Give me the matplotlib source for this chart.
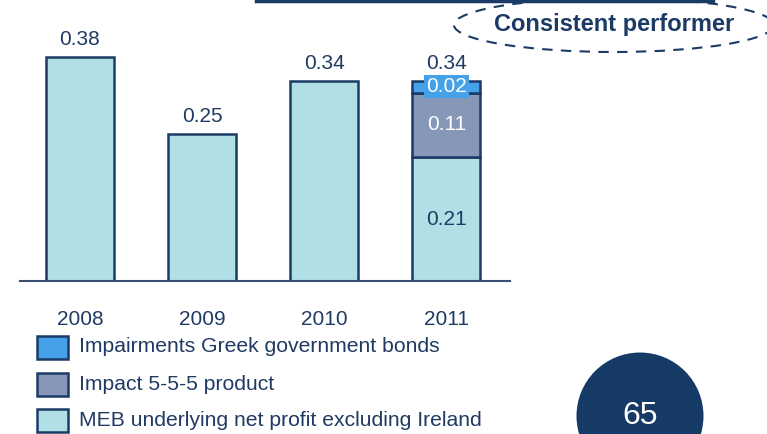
import numpy as np
import matplotlib.pyplot as plt
from matplotlib.patches import Ellipse, Circle
from matplotlib.lines import Line2D

plt.rcParams['font.family'] = ['Liberation Sans', 'DejaVu Sans']

years = ['2008', '2009', '2010', '2011']
underlying = [0.38, 0.25, 0.34, 0.21]   # MEB underlying net profit excl. Ireland
impact_555 = [0, 0, 0, 0.11]
greek_bonds = [0, 0, 0, 0.02]
totals = [0.38, 0.25, 0.34, 0.34]
legend_labels = ['Impairments Greek government bonds',
                 'Impact 5-5-5 product',
                 'MEB underlying net profit excluding Ireland']
page_no = '65'

navy = '#1b3a66'
text_c = '#1f3a63'
c_light = '#b0dfe5'
c_mid = '#8797b8'
c_blue = '#45a2e8'

W, H = 767, 434
fig = plt.figure(figsize=(W / 100, H / 100), dpi=100)

# axes placed in pixel terms: baseline at y=281, x from 20 to 510
ax = fig.add_axes([20 / W, (H - 281) / H, 490 / W, 265 / H])
ax.set_xlim(-0.49, 3.52)
ax.set_ylim(0, 0.45)
for s in ['top', 'right', 'left']:
    ax.spines[s].set_visible(False)
ax.spines['bottom'].set_color('#3b4f73')
ax.spines['bottom'].set_linewidth(1.5)
ax.set_yticks([])

x = np.arange(len(years))
w = 0.556
ax.bar(x, underlying, w, color=c_light, edgecolor=navy, linewidth=1.8, zorder=2)
b2 = np.array(underlying)
ax.bar(x[3], impact_555[3], w, bottom=b2[3], color=c_mid, edgecolor=navy,
       linewidth=1.8, zorder=2)
b3 = b2[3] + impact_555[3]
ax.bar(x[3], greek_bonds[3], w, bottom=b3, color=c_blue, edgecolor=navy,
       linewidth=1.8, zorder=2)

ax.set_xticks(x)
ax.set_xticklabels(years, fontsize=15, color=text_c)
ax.tick_params(axis='x', length=0, pad=21)

# totals above bars
for xi, t in zip(x, totals):
    ax.annotate(f'{t:.2f}', (xi, t), xytext=(0, 12.5), textcoords='offset points',
                ha='center', va='center', fontsize=15, color=text_c)

# segment labels for 2011
ax.text(x[3], underlying[3] / 2, f'{underlying[3]:.2f}', ha='center', va='center',
        fontsize=15, color=text_c, zorder=3)
ax.text(x[3], b2[3] + impact_555[3] / 2, f'{impact_555[3]:.2f}', ha='center',
        va='center', fontsize=15, color='white', zorder=3)
ax.text(x[3], b3 + greek_bonds[3] / 2, f'{greek_bonds[3]:.2f}', ha='center',
        va='center', fontsize=15, color='white', zorder=4,
        bbox=dict(boxstyle='square,pad=0.1', fc=c_blue, ec='none'))

# legend drawn by hand: squares + labels
leg_colors = [c_blue, c_mid, c_light]
leg_y = [347, 384, 420]
for col, yy, lab in zip(leg_colors, leg_y, legend_labels):
    fig.patches.append(plt.Rectangle((37 / W, (H - yy - 11.5) / H), 31 / W, 23 / H,
                                     transform=fig.transFigure, fc=col, ec=navy, lw=1.8))
    fig.text(79 / W, (H - yy) / H, lab, ha='left', va='center', fontsize=15.2,
             color=text_c)

# page number disc
ov = fig.add_axes([0, 0, 1, 1], zorder=5)
ov.set_xlim(0, W)
ov.set_ylim(H, 0)
ov.axis('off')
ov.add_patch(Circle((640, 416), 63.5, fc='#163a66', ec='none'))
ov.text(640, 416, page_no, ha='center', va='center', fontsize=23, color='white')

# dashed callout
ov.add_patch(Ellipse((614, 25), 320, 54, fill=False, ec=navy, lw=1.5,
                     ls=(0, (5, 4))))
ov.text(614, 25, 'Consistent performer', ha='center', va='center', fontsize=17,
        fontweight='bold', color=navy)

# heading underline cut at the top edge
ov.add_line(Line2D([256, 713], [0.5, 0.5], color=navy, lw=2.5))

fig.savefig('out.png', dpi=100)
